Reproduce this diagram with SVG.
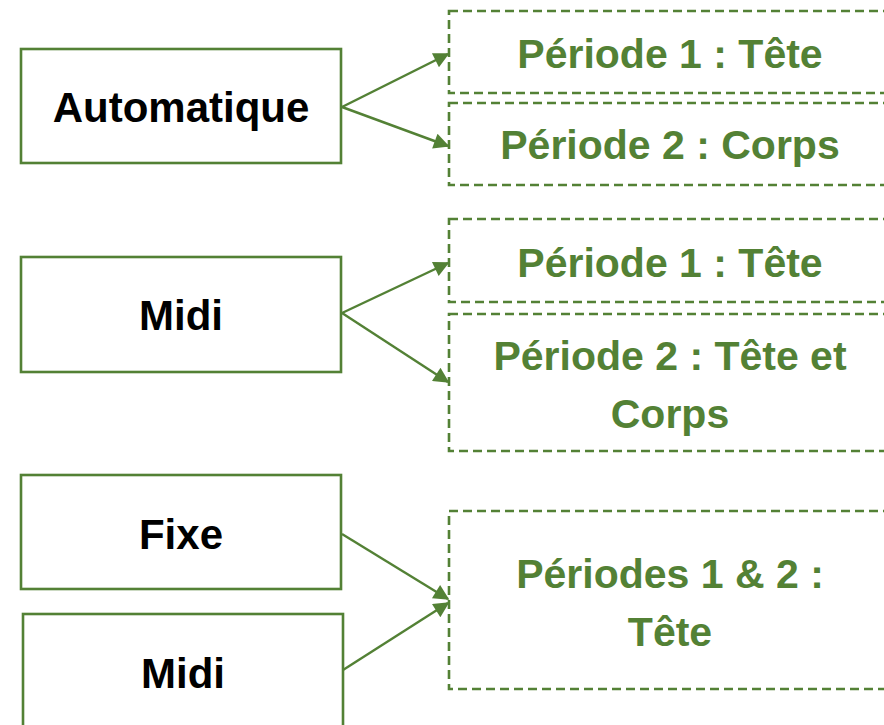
<svg xmlns="http://www.w3.org/2000/svg" width="884" height="725" viewBox="0 0 884 725">
<defs>
<style>
.src{fill:#fff;stroke:#538135;stroke-width:2.6}
.dst{fill:#fff;stroke:#538135;stroke-width:2.6;stroke-dasharray:9 5}
.lbl{font-family:"Liberation Sans",Arial,sans-serif;font-weight:bold;font-size:42px;text-anchor:middle;fill:#000}
.glbl{font-family:"Liberation Sans",Arial,sans-serif;font-weight:bold;font-size:41px;text-anchor:middle;fill:#538135}
.conn{stroke:#538135;stroke-width:2.4;fill:none;marker-end:url(#ah)}
</style>
<marker id="ah" viewBox="0 0 10 10" refX="9" refY="5" markerWidth="7.5" markerHeight="6.5" markerUnits="strokeWidth" orient="auto">
<path d="M0,0 L10,5 L0,10 z" fill="#538135"/>
</marker>
</defs>
<rect width="884" height="725" fill="#fff"/>
<g id="n-automatique"><rect class="src" x="21" y="49" width="320" height="114"/><text class="lbl" x="181" y="122">Automatique</text></g>
<g id="n-midi1"><rect class="src" x="21" y="257" width="320" height="115"/><text class="lbl" x="181" y="330">Midi</text></g>
<g id="n-fixe"><rect class="src" x="21" y="475" width="320" height="114"/><text class="lbl" x="181" y="549">Fixe</text></g>
<g id="n-midi2"><rect class="src" x="23" y="614" width="320" height="130"/><text class="lbl" x="183" y="688">Midi</text></g>
<g id="n-p1-tete-a"><rect class="dst" x="449" y="11" width="445" height="82"/><text class="glbl" x="670" y="68">Période 1 : Tête</text></g>
<g id="n-p2-corps"><rect class="dst" x="449" y="103" width="445" height="82"/><text class="glbl" x="670" y="159">Période 2 : Corps</text></g>
<g id="n-p1-tete-b"><rect class="dst" x="449" y="219" width="445" height="83"/><text class="glbl" x="670" y="277">Période 1 : Tête</text></g>
<g id="n-p2-tete-corps"><rect class="dst" x="449" y="314" width="445" height="137"/><text class="glbl" x="670" y="370">Période 2 : Tête et</text><text class="glbl" x="670" y="428">Corps</text></g>
<g id="n-p12-tete"><rect class="dst" x="449" y="511" width="445" height="178"/><text class="glbl" x="670" y="588">Périodes 1 &amp; 2 :</text><text class="glbl" x="670" y="646">Tête</text></g>
<g id="connectors">
<line class="conn" x1="342" y1="107" x2="448" y2="54"/>
<line class="conn" x1="342" y1="107" x2="448" y2="146"/>
<line class="conn" x1="342" y1="313" x2="448" y2="263"/>
<line class="conn" x1="342" y1="313" x2="448" y2="382"/>
<line class="conn" x1="342" y1="534" x2="448" y2="599"/>
<line class="conn" x1="343" y1="670" x2="448" y2="603"/>
</g>
</svg>
